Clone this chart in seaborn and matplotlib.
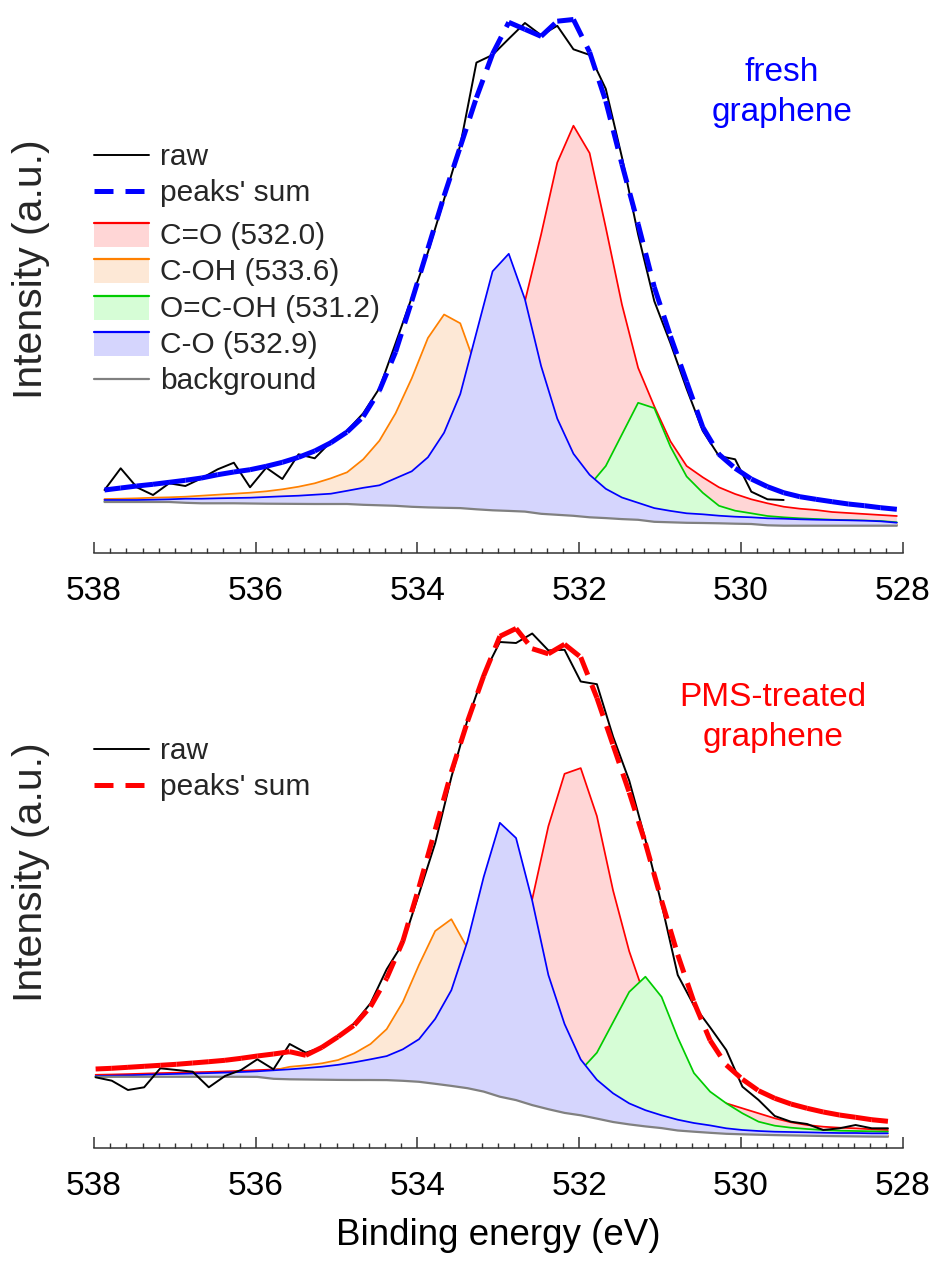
import numpy as np
import matplotlib
matplotlib.use("Agg")
import matplotlib.pyplot as plt
import seaborn as sns
from matplotlib.collections import LineCollection
from matplotlib.lines import Line2D
from matplotlib.patches import Patch, Rectangle
from matplotlib.legend_handler import HandlerBase
from matplotlib.ticker import MultipleLocator, FixedLocator, FixedFormatter

# ---------------- data (intensity in arbitrary units) ----------------
tick_values = [538, 536, 534, 532, 530, 528]
tick_labels = ["538", "536", "534", "532", "530", "528"]

top_energy = [537.87, 537.67, 537.47, 537.27, 537.07, 536.87, 536.67, 536.47, 536.27, 536.07,
              535.87, 535.67, 535.47, 535.27, 535.07, 534.87, 534.67, 534.47, 534.27, 534.07,
              533.87, 533.67, 533.47, 533.27, 533.07, 532.87, 532.67, 532.47, 532.27, 532.07,
              531.87, 531.67, 531.47, 531.27, 531.07, 530.87, 530.67, 530.47, 530.27, 530.07,
              529.87, 529.67, 529.47, 529.27, 529.07, 528.87, 528.67, 528.47, 528.27, 528.07]
top_raw = [63.3, 85.0, 66.0, 58.3, 70.0, 67.3, 75.0, 84.0, 90.6, 66.0,
           85.6, 74.3, 99.0, 95.0, 111.6, 122.6, 140.0, 165.0, 210.0, 255.7,
           301.0, 354.0, 408.0, 490.7, 498.4, 514.5, 530.3, 518.1, 527.5, 504.0,
           498.4, 464.4, 396.0, 318.8, 252.2, 210.1, 164.5, 122.4, 97.3, 94.0,
           61.6, 54.0, 53.3]
top_sum = [63.3, 65.3, 67.3, 69.0, 71.0, 73.0, 75.3, 78.6, 81.3, 83.6,
           87.0, 91.0, 96.0, 102.3, 110.6, 121.3, 136.6, 162.7, 201.3, 252.2,
           304.8, 357.4, 406.5, 455.6, 499.5, 531.0, 524.0, 517.0, 532.1, 533.8,
           501.2, 452.1, 389.0, 329.3, 266.2, 217.1, 171.5, 126.0, 99.0, 85.0,
           74.3, 66.6, 60.6, 56.6, 54.0, 51.6, 49.3, 47.6, 45.6, 44.0]
top_bg = [51.3, 51.3, 51.3, 51.3, 51.3, 50.5, 50.0, 50.0, 50.0, 49.8,
          49.6, 49.5, 49.4, 49.3, 49.3, 49.3, 48.5, 48.0, 47.5, 46.5,
          45.9, 45.5, 45.2, 44.0, 43.0, 42.4, 41.7, 39.5, 38.5, 37.5,
          36.0, 35.2, 34.2, 33.5, 31.5, 31.0, 30.5, 30.3, 30.0, 29.6,
          29.3, 28.0, 27.6, 27.6, 27.6, 27.6, 27.6, 27.6, 27.6, 27.6]
top_c_eq_o = [53.5, 53.7, 53.9, 54.1, 54.3, 54.5, 54.8, 55.1, 55.4, 55.8,
              56.2, 56.7, 57.3, 58.0, 59.0, 60.0, 61.5, 63.5, 66.0, 70.0,
              76.0, 86.0, 102.0, 125.0, 160.0, 205.0, 252.0, 318.8, 390.7, 427.6,
              400.2, 325.8, 248.7, 185.5, 147.0, 112.0, 87.3, 76.0, 66.0, 59.3,
              54.0, 50.0, 46.6, 44.6, 43.3, 41.3, 40.3, 39.3, 38.3, 37.3]
top_c_oh = [54.3, 54.6, 55.0, 55.6, 56.0, 56.6, 57.6, 58.6, 59.6, 60.6,
            62.0, 64.0, 66.6, 70.0, 75.0, 81.0, 94.0, 112.6, 140.0, 175.0,
            215.3, 238.8, 230.0, 185.0, 135.0, 100.0, 80.0, 66.0, 57.0, 52.0,
            48.0, 45.0, 42.0, 40.0, 38.0, 36.5, 35.5, 34.5, 33.5, 33.0,
            32.5, 32.0, 31.5, 31.0, 30.5, 30.2, 30.0, 29.8, 29.5, 29.0]
top_o_c_oh = [52.0, 52.0, 52.0, 52.0, 52.0, 52.0, 52.0, 52.0, 52.0, 52.0,
              52.0, 52.0, 52.0, 52.0, 52.2, 52.4, 52.6, 52.8, 53.0, 53.3,
              53.6, 54.0, 54.4, 55.0, 55.6, 56.3, 57.0, 58.0, 59.5, 62.0,
              68.0, 87.3, 118.9, 150.5, 145.2, 106.6, 76.8, 60.5, 47.5, 42.6,
              40.0, 37.3, 36.0, 35.0, 34.3, 33.6, 33.2, 32.8, 32.3, 31.0]
top_c_o = [53.3, 53.3, 53.3, 53.6, 54.0, 54.6, 54.6, 55.0, 55.3, 55.6,
           56.3, 57.0, 57.6, 58.6, 59.6, 62.5, 65.5, 68.0, 75.0, 82.0,
           96.0, 120.6, 159.2, 220.6, 282.0, 299.5, 254.0, 187.3, 134.7, 99.6,
           78.5, 64.5, 55.8, 50.5, 45.2, 42.4, 40.0, 39.0, 37.6, 36.6,
           36.0, 35.0, 34.6, 34.0, 33.6, 33.3, 33.0, 32.6, 32.0, 30.6]

bot_energy = [537.98, 537.78, 537.58, 537.38, 537.18, 536.98, 536.78, 536.58, 536.38, 536.18,
              535.98, 535.78, 535.58, 535.38, 535.18, 534.98, 534.78, 534.58, 534.38, 534.18,
              533.98, 533.78, 533.58, 533.38, 533.18, 532.98, 532.78, 532.58, 532.38, 532.18,
              531.98, 531.78, 531.58, 531.38, 531.18, 530.98, 530.78, 530.58, 530.38, 530.18,
              529.98, 529.78, 529.58, 529.38, 529.18, 528.98, 528.78, 528.58, 528.38, 528.18]
bot_raw = [71.0, 67.6, 58.3, 61.0, 80.0, 78.3, 76.6, 61.0, 72.3, 78.3,
           89.0, 79.0, 104.3, 95.6, 101.0, 112.0, 125.0, 145.0, 179.0, 205.0,
           254.5, 305.2, 371.1, 428.6, 474.2, 506.3, 505.3, 514.8, 497.9, 498.5,
           466.8, 464.1, 411.7, 367.7, 308.6, 244.3, 173.3, 142.9, 121.0, 98.3,
           61.6, 48.3, 32.3, 26.6, 24.3, 18.3, 20.0, 23.3, 20.0, 20.0]
bot_sum = [79.3, 80.0, 81.0, 82.0, 83.0, 84.0, 85.3, 86.6, 88.0, 90.0,
           92.3, 94.3, 96.6, 93.0, 101.0, 111.6, 123.3, 141.6, 170.0, 207.1,
           261.2, 318.7, 376.2, 426.9, 472.5, 512.0, 519.8, 499.6, 494.5, 504.0,
           491.1, 450.5, 403.2, 355.9, 305.2, 247.7, 193.6, 146.3, 108.0, 83.3,
           69.0, 57.6, 50.0, 44.3, 40.0, 36.3, 33.3, 31.0, 28.6, 27.0]
bot_bg = [71.5, 71.5, 71.5, 71.5, 71.5, 71.5, 71.5, 71.5, 71.5, 71.5,
          71.4, 69.5, 69.0, 68.8, 68.6, 68.4, 68.3, 68.3, 68.2, 67.5,
          66.5, 64.5, 62.4, 60.1, 56.7, 51.6, 48.2, 43.2, 39.1, 35.4,
          33.0, 29.7, 26.3, 23.9, 21.9, 20.2, 17.8, 16.6, 15.5, 14.5,
          14.0, 13.6, 13.2, 12.9, 12.6, 12.3, 12.1, 11.9, 11.7, 11.6]
bot_c_eq_o = [73.5, 73.8, 74.2, 74.7, 75.2, 75.6, 76.0, 76.4, 76.9, 77.5,
              78.2, 78.8, 80.0, 81.0, 82.5, 84.5, 87.0, 90.0, 94.0, 98.0,
              105.0, 118.0, 140.0, 170.0, 210.0, 255.0, 285.0, 249.0, 322.1, 374.5,
              380.2, 332.2, 257.9, 197.0, 150.0, 115.0, 85.0, 63.0, 52.0, 45.0,
              40.0, 35.0, 30.0, 26.0, 23.3, 21.6, 20.6, 20.0, 19.0, 18.3]
bot_c_oh = [71.7, 72.0, 72.4, 72.9, 73.4, 73.8, 74.2, 74.6, 75.1, 75.7,
            76.4, 78.0, 81.5, 83.0, 85.0, 88.3, 95.0, 104.3, 119.2, 146.3,
            183.5, 217.3, 229.1, 200.0, 150.0, 110.0, 85.0, 70.0, 60.0, 52.0,
            45.0, 40.0, 35.0, 31.0, 28.0, 26.0, 24.0, 22.5, 21.0, 19.0,
            17.5, 16.5, 16.0, 15.5, 15.0, 14.5, 14.0, 13.8, 13.5, 13.0]
bot_o_c_oh = [72.0, 72.1, 72.2, 72.3, 72.4, 72.5, 72.6, 72.7, 72.8, 73.0,
              73.2, 70.5, 70.3, 70.2, 70.1, 70.0, 70.0, 70.0, 70.0, 69.5,
              69.0, 67.5, 66.0, 64.0, 61.0, 57.0, 55.0, 53.0, 56.0, 64.0,
              78.0, 95.6, 126.0, 156.4, 171.6, 151.4, 110.8, 75.3, 56.7, 45.0,
              35.0, 26.6, 22.6, 20.6, 19.3, 18.3, 17.6, 17.3, 17.0, 16.6]
bot_c_o = [72.3, 72.6, 73.0, 73.5, 74.0, 74.4, 74.8, 75.2, 75.7, 76.3,
           77.0, 78.0, 79.0, 80.2, 81.6, 83.5, 86.0, 89.0, 92.2, 99.0,
           109.1, 129.4, 158.1, 207.1, 271.4, 325.5, 310.3, 247.7, 173.3, 124.3,
           88.8, 68.5, 55.0, 44.9, 38.1, 33.0, 28.6, 25.3, 22.9, 20.0,
           18.3, 17.3, 16.6, 16.3, 16.0, 15.6, 15.3, 15.3, 15.0, 15.0]

component_names = ["C=O (532.0)", "C-OH (533.6)", "O=C-OH (531.2)", "C-O (532.9)"]
component_line_colors = ["#ff0000", "#ff8000", "#00cc00", "#0000ff"]
component_fill_colors = ["#ffd6d6", "#fde8d6", "#d6fdd6", "#d5d5fd"]
panel_titles = [["fresh", "graphene"], ["PMS-treated", "graphene"]]
panel_title_colors = ["#0000ff", "#ff0000"]
sum_colors = ["#0000ff", "#ff0000"]

# ---------------- style ----------------
sns.set_theme(style="white")
plt.rcParams["font.family"] = ["Liberation Sans", "DejaVu Sans"]

W, H = 935, 1262
fig = plt.figure(figsize=(W / 100, H / 100), dpi=100, facecolor="white")


def px_axes(left, right, top, bottom):
    return [left / W, 1 - bottom / H, (right - left) / W, (bottom - top) / H]


ax1 = fig.add_axes(px_axes(94, 902.5, 5, 553.3))
ax2 = fig.add_axes(px_axes(94, 902.5, 605, 1148.3))
ax1.set_ylim(0, 548.3)
ax2.set_ylim(0, 543.3)

SUM_DASH = (0, (3.8, 2.2))


def draw_panel(ax, energy, raw, total, bg, comps, sum_color):
    for i, vals in enumerate(comps):
        z = 1 + i
        ax.fill_between(energy, bg, vals, facecolor=component_fill_colors[i],
                        edgecolor="none", linewidth=0, zorder=z)
        sns.lineplot(x=energy, y=vals, ax=ax, color=component_line_colors[i],
                     linewidth=1.25, zorder=z + 0.5, estimator=None, sort=False,
                     errorbar=None, legend=False)
    sns.lineplot(x=energy, y=bg, ax=ax, color="#808080", linewidth=1.6, zorder=5.5,
                 estimator=None, sort=False, errorbar=None, legend=False)
    sns.lineplot(x=energy[:len(raw)], y=raw, ax=ax, color="black", linewidth=1.4,
                 zorder=6, estimator=None, sort=False, errorbar=None, legend=False)
    pts = np.column_stack([energy, total])
    segs = np.stack([pts[:-1], pts[1:]], axis=1)
    lc = LineCollection(segs, colors=sum_color, linewidths=3.6,
                        linestyles=[SUM_DASH], capstyle="butt", joinstyle="round",
                        zorder=7)
    ax.add_collection(lc)

    ax.set_xlim(538, 528)
    ax.xaxis.set_major_locator(FixedLocator(tick_values))
    ax.xaxis.set_major_formatter(FixedFormatter(tick_labels))
    ax.xaxis.set_minor_locator(MultipleLocator(0.2))
    ax.set_yticks([])
    ax.set_xlabel("")
    ax.set_ylabel("")
    for s in ["left", "right", "top"]:
        ax.spines[s].set_visible(False)
    ax.spines["bottom"].set_color("#333333")
    ax.spines["bottom"].set_linewidth(1.1)
    ax.tick_params(axis="x", which="major", direction="in", length=7.6, width=1.1,
                   color="#333333", pad=16, labelsize=24, labelcolor="black", bottom=True)
    ax.tick_params(axis="x", which="minor", direction="in", length=3.8, width=1.0,
                   color="#333333", bottom=True)
    ax.set_facecolor("white")


draw_panel(ax1, top_energy, top_raw, top_sum, top_bg,
           [top_c_eq_o, top_c_oh, top_o_c_oh, top_c_o], sum_colors[0])
draw_panel(ax2, bot_energy, bot_raw, bot_sum, bot_bg,
           [bot_c_eq_o, bot_c_oh, bot_o_c_oh, bot_c_o], sum_colors[1])


class TopLineFill(HandlerBase):
    def create_artists(self, legend, orig_handle, xdescent, ydescent, width, height,
                       fontsize, trans):
        r = Rectangle((-xdescent, -ydescent - 2), width, height + 2,
                      facecolor=orig_handle.get_facecolor(), edgecolor="none",
                      transform=trans)
        ln = Line2D([-xdescent, -xdescent + width], [-ydescent + height] * 2,
                    color=orig_handle.get_edgecolor(), linewidth=1.6, transform=trans)
        return [r, ln]


LEG_FS = 21.5
leg_kw = dict(frameon=False, fontsize=LEG_FS, handlelength=1.84, handletextpad=0.37,
              borderpad=0, borderaxespad=0, labelspacing=0.28,
              bbox_transform=fig.transFigure, loc="upper left")


def line_handles(sum_color):
    return [Line2D([], [], color="black", linewidth=1.4),
            Line2D([], [], color=sum_color, linewidth=3.6, linestyle=(0, (3.8, 2.4)),
                   dash_capstyle="butt")]


leg_a = ax1.legend(line_handles(sum_colors[0]), ["raw", "peaks' sum"],
                   bbox_to_anchor=(94 / W, 1 - 143 / H), **leg_kw)
ax1.add_artist(leg_a)
comp_handles = [Patch(facecolor=component_fill_colors[i], edgecolor=component_line_colors[i])
                for i in range(4)]
bg_handle = Line2D([], [], color="#808080", linewidth=1.6)
leg_b = ax1.legend(comp_handles + [bg_handle], component_names + ["background"],
                   handler_map={Patch: TopLineFill()}, handleheight=0.72,
                   bbox_to_anchor=(94 / W, 1 - 222 / H), **leg_kw)
leg_c = ax2.legend(line_handles(sum_colors[1]), ["raw", "peaks' sum"],
                   bbox_to_anchor=(94 / W, 1 - 737 / H), **leg_kw)

# panel captions
fig.text(782 / W, 1 - 81 / H, panel_titles[0][0], color=panel_title_colors[0],
         fontsize=24, ha="center", va="baseline")
fig.text(782 / W, 1 - 121.5 / H, panel_titles[0][1], color=panel_title_colors[0],
         fontsize=24, ha="center", va="baseline")
fig.text(773 / W, 1 - 706 / H, panel_titles[1][0], color=panel_title_colors[1],
         fontsize=24, ha="center", va="baseline")
fig.text(773 / W, 1 - 746.5 / H, panel_titles[1][1], color=panel_title_colors[1],
         fontsize=24, ha="center", va="baseline")

# axis labels
fig.text(31 / W, 1 - 269 / H, "Intensity (a.u.)", rotation=90, fontsize=29.5,
         ha="center", va="center")
fig.text(31 / W, 1 - 872 / H, "Intensity (a.u.)", rotation=90, fontsize=29.5,
         ha="center", va="center")
ax2.set_xlabel("Binding energy (eV)", fontsize=26.5, labelpad=12, color="black")

fig.savefig("out.png", dpi=100, facecolor="white")
